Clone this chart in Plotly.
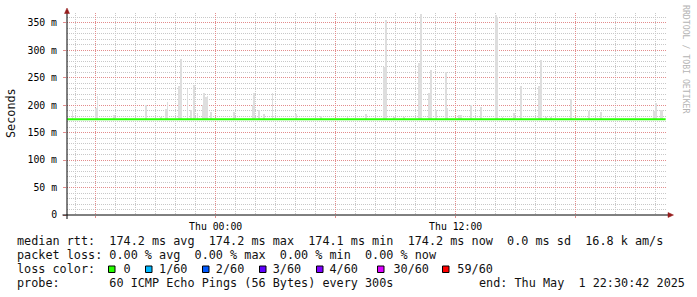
import plotly.graph_objects as go
import pandas as pd

# ---------------- data ----------------
x_start = "2025-04-30 16:34:00"
x_end = "2025-05-01 22:34:00"

median_start = "2025-04-30 16:35"
median_end = "2025-05-01 22:30"
median_rtt_ms = 174.2  # sd 0.0 ms -> flat median line

smoke_times = [
    "2025-04-30 16:50", "2025-04-30 18:00", "2025-04-30 18:05", "2025-04-30 18:55",
    "2025-04-30 19:30", "2025-04-30 20:30", "2025-04-30 21:15", "2025-04-30 21:30",
    "2025-04-30 21:35", "2025-04-30 22:10", "2025-04-30 22:15", "2025-04-30 22:35",
    "2025-04-30 22:45", "2025-04-30 22:55", "2025-04-30 23:05", "2025-04-30 23:20",
    "2025-04-30 23:25", "2025-04-30 23:30", "2025-04-30 23:35", "2025-04-30 23:45",
    "2025-05-01 00:15", "2025-05-01 00:55", "2025-05-01 01:50", "2025-05-01 01:55",
    "2025-05-01 02:10", "2025-05-01 02:25", "2025-05-01 02:50", "2025-05-01 04:00",
    "2025-05-01 05:15", "2025-05-01 06:35", "2025-05-01 07:30", "2025-05-01 08:25",
    "2025-05-01 08:30", "2025-05-01 08:55", "2025-05-01 09:25", "2025-05-01 10:10",
    "2025-05-01 10:15", "2025-05-01 10:40", "2025-05-01 10:45", "2025-05-01 11:00",
    "2025-05-01 11:30", "2025-05-01 11:35", "2025-05-01 12:10", "2025-05-01 12:15",
    "2025-05-01 12:45", "2025-05-01 13:15", "2025-05-01 14:00", "2025-05-01 14:05",
    "2025-05-01 14:20", "2025-05-01 14:55", "2025-05-01 15:15", "2025-05-01 16:10",
    "2025-05-01 16:15", "2025-05-01 16:30", "2025-05-01 16:45", "2025-05-01 17:45",
    "2025-05-01 18:40", "2025-05-01 19:15", "2025-05-01 21:55", "2025-05-01 22:00",
    "2025-05-01 22:15", "2025-05-01 22:20",
]
smoke_max_ms = [
    190, 195, 217, 182,
    177, 200, 178, 193,
    205, 235, 284, 230,
    191, 237, 186, 200,
    222, 215, 216, 188,
    175, 188, 200, 222,
    191, 184, 222, 183,
    180, 179, 184, 270,
    354, 179, 179, 277,
    366, 222, 264, 191,
    260, 195, 182, 182,
    200, 196, 364, 360,
    179, 185, 234, 234,
    282, 178, 179, 211,
    190, 187, 190, 204,
    191, 191,
]

x_tick_vals = ["2025-04-30 18:00", "2025-05-01 00:00", "2025-05-01 06:00",
               "2025-05-01 12:00", "2025-05-01 18:00"]
x_tick_text = ["", "Thu 00:00", "", "Thu 12:00", ""]
y_tick_vals = [0, 50, 100, 150, 200, 250, 300, 350]
y_tick_text = ["0", "50 m", "100 m", "150 m", "200 m", "250 m", "300 m", "350 m"]

loss_labels = ["0", "1/60", "2/60", "3/60", "4/60", "30/60", "59/60"]
loss_colors = ["#26ff00", "#00b8ff", "#0059ff", "#5e00ff", "#7e00ff", "#dd00ff", "#ff0000"]

legend_line1 = "median rtt:  174.2 ms avg  174.2 ms max  174.1 ms min  174.2 ms now  0.0 ms sd  16.8 k am/s"
legend_line2 = "packet loss: 0.00 % avg  0.00 % max  0.00 % min  0.00 % now"
legend_line3 = "loss color:    0    1/60    2/60    3/60    4/60     30/60    59/60"
legend_line4 = "probe:       60 ICMP Echo Pings (56 Bytes) every 300s"
legend_end = "end: Thu May  1 22:30:42 2025"
y_title = "Seconds"
watermark = "RRDTOOL / TOBI OETIKER"

# ---------------- geometry helpers (layout only) ----------------
W, H = 697, 297
L, R, T, B = 67, 30, 13, 82
PW, PH = W - L - R, H - T - B


def px(xp):
    return (xp - L) / PW


def py(yp):
    return (H - B - yp) / PH


FONT = "DejaVu Sans Mono"
MAJOR = "#e38c8c"
MINOR = "#c8c8c8"

median_times = pd.date_range(median_start, median_end, freq="5min")
median_vals = [median_rtt_ms] * len(median_times)

fig = go.Figure()
fig.add_trace(go.Bar(
    x=pd.to_datetime(smoke_times),
    y=[v - median_rtt_ms for v in smoke_max_ms],
    base=median_rtt_ms,
    width=300000,
    marker=dict(color="#dedede", line=dict(width=0)),
    hoverinfo="skip",
    showlegend=False,
))
fig.add_trace(go.Scatter(
    x=median_times, y=median_vals, mode="lines",
    line=dict(color="#26ff00", width=2),
    hoverinfo="skip", showlegend=False,
))

shapes = []
# axes
shapes.append(dict(type="line", xref="paper", yref="paper",
                   x0=px(62.5), x1=px(668.5), y0=py(215), y1=py(215),
                   line=dict(color="black", width=1)))
shapes.append(dict(type="line", xref="paper", yref="paper",
                   x0=px(67), x1=px(67), y0=py(219), y1=py(12),
                   line=dict(color="black", width=1)))
# arrows
shapes.append(dict(type="path", xref="paper", yref="paper",
                   path=f"M {px(64.5)},{py(13.5)} L {px(69.5)},{py(13.5)} L {px(67)},{py(8)} Z",
                   fillcolor="#961c1c", line=dict(color="#961c1c", width=0.5)))
shapes.append(dict(type="path", xref="paper", yref="paper",
                   path=f"M {px(668)},{py(212.5)} L {px(668)},{py(217.5)} L {px(673.5)},{py(215)} Z",
                   fillcolor="#961c1c", line=dict(color="#961c1c", width=0.5)))
# loss color swatches
sq_left = [108.5, 145.5, 202.5, 259.5, 316.5, 377.5, 442.5]
for xl, col in zip(sq_left, loss_colors):
    shapes.append(dict(type="rect", xref="paper", yref="paper",
                       x0=px(xl), x1=px(xl + 6.5), y0=py(272.5), y1=py(266),
                       fillcolor=col, line=dict(color="black", width=1)))

annotations = []


def nb(s):
    return s.replace(" ", "\u00a0")


for txt, yc in [(legend_line1, 241), (legend_line2, 255), (legend_line3, 269), (legend_line4, 283)]:
    annotations.append(dict(text=nb(txt), xref="paper", yref="paper", x=px(14.5), y=py(yc),
                            xanchor="left", yanchor="middle", showarrow=False,
                            font=dict(family=FONT, size=11.8, color="#111111")))
annotations.append(dict(text=nb(legend_end), xref="paper", yref="paper", x=px(476.5), y=py(283),
                        xanchor="left", yanchor="middle", showarrow=False,
                        font=dict(family=FONT, size=11.8, color="#111111")))
annotations.append(dict(text=y_title, xref="paper", yref="paper", x=px(10.5), y=py(113.5),
                        xanchor="center", yanchor="middle", showarrow=False, textangle=-90,
                        font=dict(family=FONT, size=11.8, color="#111111")))
annotations.append(dict(text=nb(watermark), xref="paper", yref="paper", x=px(686), y=py(59),
                        xanchor="center", yanchor="middle", showarrow=False, textangle=90,
                        font=dict(family=FONT, size=8.2, color="#b4b4b4")))

fig.update_layout(
    width=W, height=H,
    margin=dict(l=L, r=R, t=T, b=B, pad=0),
    paper_bgcolor="white", plot_bgcolor="white",
    showlegend=False,
    bargap=0,
    font=dict(family=FONT, size=9.8, color="black"),
    shapes=shapes,
    annotations=annotations,
    xaxis=dict(
        type="date", range=[x_start, x_end],
        tickmode="array", tickvals=x_tick_vals, ticktext=x_tick_text,
        showgrid=True, gridcolor=MAJOR, griddash="1px,1px", gridwidth=1,
        ticks="outside", ticklen=2, tickcolor=MAJOR,
        zeroline=False, showline=False,
        tickfont=dict(family=FONT, size=9.8, color="black"),
        minor=dict(tickmode="linear", dtick=3600000, tick0="2025-04-30 17:00",
                   showgrid=True, gridcolor=MINOR, griddash="1px,1px", gridwidth=1),
        fixedrange=True,
    ),
    yaxis=dict(
        range=[0, 367.5],
        tickmode="array", tickvals=y_tick_vals, ticktext=y_tick_text,
        showgrid=True, gridcolor=MAJOR, griddash="1px,1px", gridwidth=1,
        ticks="outside", ticklen=3, tickcolor=MAJOR,
        zeroline=False, showline=False,
        tickfont=dict(family=FONT, size=9.8, color="black"),
        ticklabelstandoff=4,
        minor=dict(tickmode="linear", dtick=10, tick0=0,
                   showgrid=True, gridcolor=MINOR, griddash="1px,1px", gridwidth=1),
        fixedrange=True,
    ),
)

fig.write_html("out.html", config=dict(displayModeBar=False, staticPlot=True))
